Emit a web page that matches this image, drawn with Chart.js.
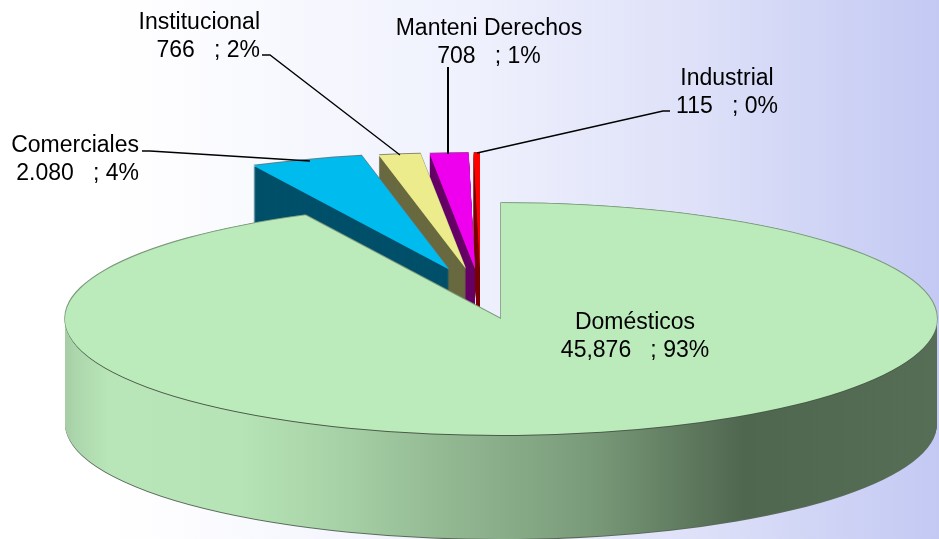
<!DOCTYPE html>
<html>
<head>
<meta charset="utf-8">
<style>html,body{margin:0;padding:0;background:#fff}canvas{display:block}</style>
<script src="https://cdn.jsdelivr.net/npm/chart.js@4/dist/chart.umd.min.js"></script>
</head>
<body>
<canvas id="c" width="939" height="539"></canvas>
<script>
// ---- data ----
const categories = ['Domésticos', 'Comerciales', 'Institucional', 'Manteni Derechos', 'Industrial'];
const values = [45876, 2080, 766, 708, 115];
const valueLabels = ['45,876', '2.080', '766', '708', '115'];

// ---- styles ----
const topColors = ['#BBEBBB', '#00BBEE', '#ECEC8C', '#EE00EE', '#FF0000'];
const sideColors = [null, '#00506A', '#696940', '#660066', '#7A0000'];
const edgeColors = ['#7C9A7C', '#5A7F8C', '#8A8A70', '#A838A8', '#B02020'];
const sideStops = [[0, '#A6CDA6'], [0.012, '#ACD6AC'], [0.05, '#B8E6B8'], [0.2, '#B6E4B6'], [0.3, '#A9D4A9'],
                   [0.44, '#92B892'], [0.6, '#7A9B7A'], [0.78, '#4F664F'], [1, '#566E56']];
const bgStops = [[0, '#FFFFFF'], [0.12, '#FFFFFF'], [0.5, '#EFF1FD'], [0.75, '#DDE0F8'], [1, '#C3C9F3']];

// projection of the pie (tilted view)
const pie = {cx: 501, cy: 319, rx: 436, ry: 116, depth: 104};
const explode = [[0, 0], [-52, -49.5], [-35, -50], [-26, -50], [-21, -50]];

// callouts
const labelStyle = [
  {x: 635, y: 329, align: 'center'},
  {x: 139, y: 152, align: 'right'},
  {x: 260, y: 29, align: 'right'},
  {x: 489, y: 35, align: 'center'},
  {x: 727, y: 85, align: 'center'}
];
const leaders = [
  null,
  {w: 1.3, pts: [[142, 151], [150, 151], [310, 161]]},
  {w: 1.3, pts: [[262, 55], [270, 55], [400, 155]]},
  {w: 2, pts: [[448, 67], [448, 154]]},
  {w: 1.3, pts: [[670, 111], [663, 111], [477, 153]]}
];

function pct(v) {
  const total = values.reduce((a, b) => a + b, 0);
  return Math.round(v / total * 100) + '%';
}

function drawArc(ctx, arc, color, dx, dy) {
  const R = arc.outerRadius;
  ctx.save();
  ctx.translate(pie.cx + dx, pie.cy + dy);
  ctx.scale(pie.rx / R, pie.ry / R);
  ctx.translate(-arc.x, -arc.y);
  const saved = arc.options;
  arc.options = Object.assign({}, saved, {backgroundColor: color, borderWidth: 0});
  arc.draw(ctx);
  arc.options = saved;
  ctx.restore();
}

const pie3d = {
  id: 'pie3d',
  beforeDraw(chart) {
    const {ctx, width, height} = chart;
    const g = ctx.createLinearGradient(0, 0, width, 0);
    bgStops.forEach(s => g.addColorStop(s[0], s[1]));
    ctx.fillStyle = g;
    ctx.fillRect(0, 0, width, height);
  },
  beforeDatasetDraw(chart, args) {
    const ctx = chart.ctx;
    const arcs = args.meta.data;
    // exploded small slices: the one nearest the seam first, so each next one covers the previous wall
    for (let i = arcs.length - 1; i >= 1; i--) {
      const [dx, dy] = explode[i];
      for (let d = pie.depth; d >= 1; d--) drawArc(ctx, arcs[i], sideColors[i], dx, dy + d);
      drawArc(ctx, arcs[i], edgeColors[i], dx, dy - 1);
      drawArc(ctx, arcs[i], topColors[i], dx, dy);
    }
    // main slice
    const a = arcs[0], R = a.outerRadius;
    const g = ctx.createLinearGradient(a.x - R, 0, a.x + R, 0);
    sideStops.forEach(s => g.addColorStop(s[0], s[1]));
    drawArc(ctx, a, '#5A6A5A', 0, pie.depth + 1);
    for (let d = pie.depth; d >= 1; d--) drawArc(ctx, a, g, 0, d);
    drawArc(ctx, a, '#4A5A4A', 0, 1);
    drawArc(ctx, a, edgeColors[0], -0.8, -0.8);
    drawArc(ctx, a, edgeColors[0], 0.8, -0.8);
    drawArc(ctx, a, topColors[0], 0, 0);
    return false;
  },
  afterDraw(chart) {
    const ctx = chart.ctx;
    ctx.strokeStyle = '#000';
    leaders.forEach(l => {
      if (!l) return;
      ctx.lineWidth = l.w;
      ctx.beginPath();
      l.pts.forEach((p, i) => i ? ctx.lineTo(p[0], p[1]) : ctx.moveTo(p[0], p[1]));
      ctx.stroke();
    });
    ctx.fillStyle = '#000';
    ctx.font = '23px "Liberation Sans", Arial, sans-serif';
    ctx.textBaseline = 'alphabetic';
    categories.forEach((c, i) => {
      const s = labelStyle[i];
      ctx.textAlign = s.align;
      ctx.fillText(c, s.x, s.y);
      ctx.fillText(valueLabels[i] + '   ; ' + pct(values[i]), s.x, s.y + 28);
    });
  }
};

new Chart(document.getElementById('c'), {
  type: 'pie',
  data: {
    labels: categories,
    datasets: [{data: values, backgroundColor: topColors, borderWidth: 0}]
  },
  options: {
    responsive: false,
    animation: false,
    layout: {padding: 0},
    plugins: {legend: {display: false}, tooltip: {enabled: false}, title: {display: false}}
  },
  plugins: [pie3d]
});
</script>
</body>
</html>
